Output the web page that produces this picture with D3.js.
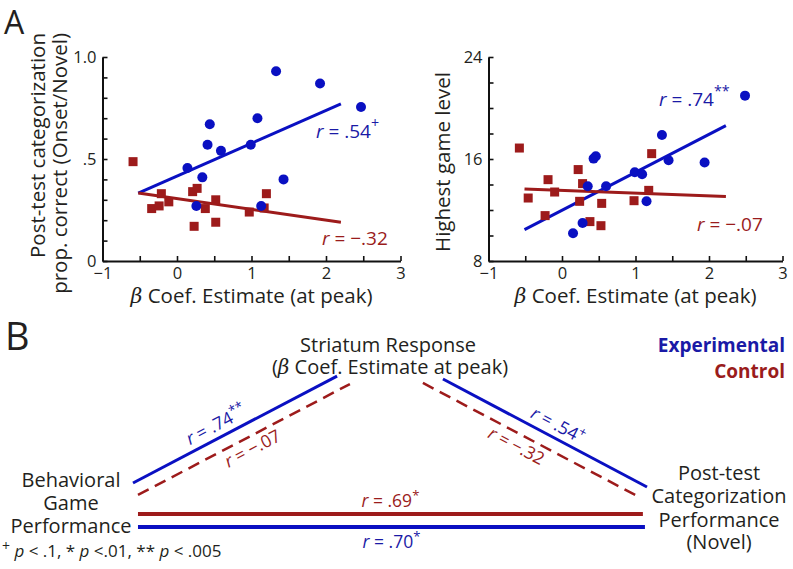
<!DOCTYPE html>
<html><head><meta charset="utf-8">
<script src="https://cdn.jsdelivr.net/npm/d3@7"></script>
<style>
body{margin:0;background:#fff}
svg{display:block}
text{font-family:'Open Sans',sans-serif}
</style>
</head><body>
<svg id="c" width="793" height="569" fill="#231f20"></svg>
<script>
// ---------- DATA ----------
// Panel A, left: post-test categorization vs beta
const leftBlueX = [0.14,0.34,0.26,0.41,0.44,0.59,0.99,1.08,1.13,1.33,1.43,1.92,2.47];
const leftBlueY = [0.456,0.41,0.27,0.57,0.67,0.54,0.57,0.70,0.27,0.93,0.40,0.87,0.755];
const leftRedX  = [-0.59,-0.34,-0.24,-0.21,-0.11,0.21,0.27,0.23,0.38,0.52,0.52,0.97,1.17,1.20];
const leftRedY  = [0.487,0.257,0.27,0.33,0.29,0.34,0.356,0.17,0.257,0.30,0.19,0.24,0.26,0.33];
const leftBlueFitX = [-0.52,2.20], leftBlueFitY = [0.333,0.77];
const leftRedFitX  = [-0.52,2.20], leftRedFitY  = [0.333,0.19];
// Panel A, right: highest game level vs beta
const rightBlueX = [0.15,0.28,0.35,0.43,0.46,0.60,0.99,1.09,1.15,1.36,1.45,1.94,2.49];
const rightBlueY = [10.17,10.98,13.86,16.03,16.21,13.86,14.96,14.8,12.68,17.88,15.9,15.72,20.97];
const rightRedX  = [-0.58,-0.46,-0.23,-0.19,-0.10,0.22,0.24,0.28,0.38,0.54,0.53,0.98,1.18,1.22];
const rightRedY  = [16.86,12.94,11.56,14.38,13.41,15.17,12.68,14.07,11.09,12.52,10.77,12.73,13.54,16.42];
const rightBlueFitX = [-0.51,2.23], rightBlueFitY = [10.46,18.62];
const rightRedFitX  = [-0.51,2.23], rightRedFitY  = [13.65,13.05];
// ticks
const xTickValues = [-1,-0.5,0,0.5,1,1.5,2,2.5,3];
const xTickLabels = {"-1":"\u22121","0":"0","1":"1","2":"2","3":"3"};
const leftYTickValues = [0,0.1,0.2,0.3,0.4,0.5,0.6,0.7,0.8,0.9,1.0];
const leftYTickLabels = {"0":"0","0.5":".5","1":"1.0"};
const rightYTickValues = [8,10,12,14,16,18,20,22,24];
const rightYTickLabels = {"8":"8","16":"16","24":"24"};
// Panel B: correlations
const pathNames = ["blueLeft","redLeft","blueRight","redRight","redBottom","blueBottom"];
const pathR = ["r = .74","r = \u2212.07","r = .54","r = \u2212.32","r = .69","r = .70"];
const pathSig = ["**","","+","","*","*"];
const pathGroup = ["Experimental","Control","Experimental","Control","Control","Experimental"];

// ---------- STYLE ----------
const BLUE = "#0a10c2", RED = "#9d1b1b";
const BLUE_T = "#1a1aa6", RED_T = "#9a1c1c";
const INK = "#231f20";
const svg = d3.select("#c");

function rLabel(sel, r, sig, color, size, supShift) {
  sel.attr("fill", color).attr("font-size", size);
  sel.append("tspan").attr("font-style","italic").text("r");
  sel.append("tspan").text(r.slice(1));
  if (sig) sel.append("tspan").attr("font-size", size*0.75).attr("dy", supShift).text(sig);
}

function scatter(o) {
  const x = d3.scaleLinear().domain([-1,3]).range([o.x0, o.x1]);
  const y = d3.scaleLinear().domain(o.yDomain).range([261, 57]);
  const g = svg.append("g");
  const xa = g.append("g").attr("transform","translate(0,261)")
    .call(d3.axisBottom(x).tickValues(xTickValues)
      .tickFormat(d => xTickLabels[String(d)] || "")
      .tickSizeInner(-5).tickSizeOuter(0).tickPadding(6));
  const ya = g.append("g").attr("transform",`translate(${o.x0},0)`)
    .call(d3.axisLeft(y).tickValues(o.yTicks)
      .tickFormat(d => o.yLabels[String(+d.toFixed(2))] || "")
      .tickSizeInner(-5).tickSizeOuter(0).tickPadding(6));
  [xa, ya].forEach(a => {
    a.select(".domain").attr("stroke","#111").attr("stroke-width",2);
    a.selectAll(".tick line").attr("stroke","#111").attr("stroke-width",1.6);
    a.selectAll(".tick text").attr("font-size",16.5).attr("fill",INK)
      .attr("font-family","'Open Sans',sans-serif");
  });
  // fit lines
  const line = d3.line().x(d=>x(d[0])).y(d=>y(d[1]));
  g.append("path").attr("d", line(d3.zip(o.bfx,o.bfy))).attr("stroke",BLUE).attr("stroke-width",3).attr("fill","none");
  g.append("path").attr("d", line(d3.zip(o.rfx,o.rfy))).attr("stroke",RED).attr("stroke-width",3).attr("fill","none");
  // points
  g.selectAll(".sq").data(d3.zip(o.rx,o.ry)).join("rect")
    .attr("x",d=>x(d[0])-4.5).attr("y",d=>y(d[1])-4.5).attr("width",9).attr("height",9).attr("fill",RED);
  g.selectAll(".ci").data(d3.zip(o.bx,o.by)).join("circle")
    .attr("cx",d=>x(d[0])).attr("cy",d=>y(d[1])).attr("r",5).attr("fill",BLUE);
  // x title
  const xt = g.append("text").attr("x",(o.x0+o.x1)/2).attr("y",303).attr("text-anchor","middle").attr("font-size",20.5);
  xt.append("tspan").attr("font-family","'DejaVu Serif',serif").attr("font-style","italic").text("\u03B2");
  xt.append("tspan").text(" Coef. Estimate (at peak)");
  // r labels
  rLabel(g.append("text").attr("x",o.bl[0]).attr("y",o.bl[1]), o.bt, o.bs, BLUE_T, 19, -10);
  rLabel(g.append("text").attr("x",o.rl[0]).attr("y",o.rl[1]), o.rt, "", RED_T, 19, 0);
  return {x,y,g};
}

scatter({x0:102.5,x1:400.5,yDomain:[0,1],yTicks:leftYTickValues,yLabels:leftYTickLabels,
  bx:leftBlueX,by:leftBlueY,rx:leftRedX,ry:leftRedY,
  bfx:leftBlueFitX,bfy:leftBlueFitY,rfx:leftRedFitX,rfy:leftRedFitY,
  bl:[316,138],bt:pathR[2],bs:pathSig[2],rl:[322,245],rt:pathR[3]});
scatter({x0:488.5,x1:782.5,yDomain:[8,24],yTicks:rightYTickValues,yLabels:rightYTickLabels,
  bx:rightBlueX,by:rightBlueY,rx:rightRedX,ry:rightRedY,
  bfx:rightBlueFitX,bfy:rightBlueFitY,rfx:rightRedFitX,rfy:rightRedFitY,
  bl:[659,106],bt:pathR[0],bs:pathSig[0],rl:[697,231],rt:pathR[1]});

// y titles
svg.append("text").attr("transform","translate(45,33) rotate(-90)").attr("text-anchor","end").attr("font-size",20.5).text("Post-test categorization");
svg.append("text").attr("transform","translate(67,33) rotate(-90)").attr("text-anchor","end").attr("font-size",20.5).text("prop. correct (Onset/Novel)");
svg.append("text").attr("transform","translate(450,162) rotate(-90)").attr("text-anchor","middle").attr("font-size",20.5).text("Highest game level");

// panel letters
svg.append("text").attr("x",4).attr("y",34).attr("font-size",32).text("A");
svg.append("text").attr("x",5).attr("y",350).attr("font-size",38).text("B");

// ---------- PANEL B ----------
const xB = d3.scaleLinear().domain([0,1]).range([133,647]);
const yB = d3.scaleLinear().domain([0,1]).range([375,528]);
const pathU = [[0,0.397],[0.0097,0.422],[0.603,1.0],[0.564,0.977],[0.0097,0.992],[0.0097,0.996]];
const pathV = [[0.706,0.007],[0.784,0.059],[0.026,0.732],[0.052,0.784],[0.908,0.908],[0.993,0.993]];
const pathDash = [null,"12,7",null,"12,7",null,null];
const pathW = [3,2.5,3,2.5,4,4];
const labT = [0.436,0.514,0.534,0.467,0.5,0.5];
const labOff = [-7,18,-7,18,-7,21];
const gB = svg.append("g");
pathNames.forEach((n,i) => {
  const col = pathGroup[i]==="Experimental" ? BLUE : RED;
  const tcol = pathGroup[i]==="Experimental" ? BLUE_T : RED_T;
  const x1 = xB(pathU[i][0]), y1 = yB(pathV[i][0]), x2 = xB(pathU[i][1]), y2 = yB(pathV[i][1]);
  gB.append("line").attr("x1",x1).attr("y1",y1).attr("x2",x2).attr("y2",y2)
    .attr("stroke",col).attr("stroke-width",pathW[i]).attr("stroke-dasharray",pathDash[i]);
  let ang = Math.atan2(y2-y1,x2-x1)*180/Math.PI;
  if (ang > 90) ang -= 180; if (ang < -90) ang += 180;
  const px = x1 + (x2-x1)*labT[i], py = y1 + (y2-y1)*labT[i];
  const t = gB.append("text").attr("transform",`translate(${px},${py}) rotate(${ang})`)
    .attr("text-anchor","middle").attr("y",labOff[i]);
  rLabel(t, pathR[i], pathSig[i], tcol, 17.5, -7);
});
// node texts
function multi(lines, cx, ys, size) {
  lines.forEach((s,i)=> svg.append("text").attr("x",cx).attr("y",ys[i]).attr("text-anchor","middle").attr("font-size",size).text(s));
}
svg.append("text").attr("x",388).attr("y",352).attr("text-anchor","middle").attr("font-size",20).text("Striatum Response");
const st = svg.append("text").attr("x",390).attr("y",374).attr("text-anchor","middle").attr("font-size",20);
st.append("tspan").text("(");
st.append("tspan").attr("font-family","'DejaVu Serif',serif").attr("font-style","italic").text("\u03B2");
st.append("tspan").text(" Coef. Estimate at peak)");
multi(["Behavioral","Game","Performance"], 71, [487,510,533], 20);
multi(["Post-test","Categorization","Performance","(Novel)"], 719, [480,503,527,549], 20);
svg.append("text").attr("x",785).attr("y",352).attr("text-anchor","end").attr("font-size",19).attr("font-weight","bold").attr("fill",BLUE_T).text("Experimental");
svg.append("text").attr("x",785).attr("y",378).attr("text-anchor","end").attr("font-size",19).attr("font-weight","bold").attr("fill",RED_T).text("Control");
// footnote
const fn = svg.append("text").attr("x",2).attr("y",557).attr("font-size",17);
fn.append("tspan").attr("font-size",14).attr("dy",-6).text("+");
fn.append("tspan").attr("dy",6).text(" ");
fn.append("tspan").attr("font-style","italic").text("p");
fn.append("tspan").text(" < .1, * ");
fn.append("tspan").attr("font-style","italic").text("p");
fn.append("tspan").text(" <.01, ** ");
fn.append("tspan").attr("font-style","italic").text("p");
fn.append("tspan").text(" < .005");
</script>
</body></html>
